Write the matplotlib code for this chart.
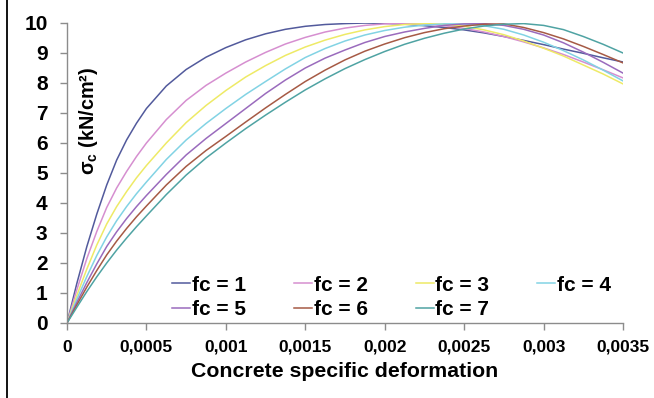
import matplotlib
matplotlib.use("Agg")
import matplotlib.pyplot as plt
from matplotlib.lines import Line2D

plt.rcParams['font.family'] = ['Liberation Sans', 'DejaVu Sans']
plt.rcParams['font.weight'] = 'bold'
plt.rcParams['mathtext.fontset'] = 'custom'
plt.rcParams['mathtext.rm'] = 'Liberation Sans'
plt.rcParams['mathtext.bf'] = 'Liberation Sans:bold'

# strain values, finer near the origin
strain = [0, 0.0000625, 0.000125, 0.0001875, 0.00025, 0.0003125, 0.000375, 0.0004375,
          0.0005, 0.000625, 0.00075, 0.000875, 0.001, 0.001125, 0.00125, 0.001375,
          0.0015, 0.001625, 0.00175, 0.001875, 0.002, 0.002125, 0.00225, 0.002375,
          0.0025, 0.002625, 0.00275, 0.002875, 0.003, 0.003125, 0.00325, 0.003375, 0.0035]

fc1 = [0, 1.33, 2.55, 3.63, 4.6, 5.43, 6.1, 6.66, 7.15, 7.9, 8.45, 8.86, 9.18, 9.44, 9.64,
       9.79, 9.89, 9.95, 9.98, 10.0, 9.99, 9.96, 9.91, 9.85, 9.77, 9.67, 9.55, 9.42, 9.28,
       9.13, 8.99, 8.84, 8.7]
fc2 = [0, 1.12, 2.15, 3.05, 3.85, 4.5, 5.05, 5.55, 6.0, 6.78, 7.42, 7.92, 8.33, 8.7, 9.02,
       9.3, 9.52, 9.7, 9.83, 9.92, 9.97, 9.99, 9.97, 9.91, 9.82, 9.7, 9.55, 9.37, 9.17,
       8.95, 8.7, 8.44, 8.17]
fc3 = [0, 0.93, 1.8, 2.6, 3.3, 3.88, 4.38, 4.84, 5.25, 6.0, 6.68, 7.25, 7.75, 8.2, 8.58,
       8.92, 9.2, 9.43, 9.62, 9.77, 9.88, 9.95, 9.98, 9.96, 9.89, 9.77, 9.61, 9.4, 9.16,
       8.9, 8.6, 8.3, 7.97]
fc4 = [0, 0.8, 1.55, 2.25, 2.87, 3.41, 3.88, 4.31, 4.7, 5.45, 6.1, 6.65, 7.15, 7.62, 8.05,
       8.47, 8.85, 9.15, 9.4, 9.6, 9.75, 9.86, 9.93, 9.97, 9.97, 9.91, 9.79, 9.6, 9.36,
       9.08, 8.77, 8.43, 8.07]
fc5 = [0, 0.69, 1.35, 1.97, 2.55, 3.04, 3.48, 3.88, 4.25, 4.95, 5.6, 6.15, 6.65, 7.15, 7.65,
       8.1, 8.5, 8.83, 9.1, 9.35, 9.55, 9.7, 9.82, 9.92, 9.97, 9.98, 9.92, 9.79, 9.6,
       9.34, 9.03, 8.69, 8.33]
fc6 = [0, 0.61, 1.2, 1.75, 2.27, 2.73, 3.15, 3.54, 3.9, 4.6, 5.22, 5.75, 6.22, 6.7, 7.17,
       7.62, 8.05, 8.43, 8.77, 9.06, 9.3, 9.51, 9.68, 9.81, 9.9, 9.96, 9.97, 9.85, 9.68,
       9.47, 9.22, 8.95, 8.67]
fc7 = [0, 0.53, 1.05, 1.54, 2.0, 2.43, 2.83, 3.21, 3.57, 4.28, 4.93, 5.5, 6.0, 6.48, 6.93,
       7.36, 7.77, 8.14, 8.48, 8.78, 9.05, 9.29, 9.49, 9.66, 9.8, 9.9, 9.96, 9.98, 9.92,
       9.78, 9.55, 9.29, 9.0]

series = [fc1, fc2, fc3, fc4, fc5, fc6, fc7]
labels = ['fc = 1', 'fc = 2', 'fc = 3', 'fc = 4', 'fc = 5', 'fc = 6', 'fc = 7']
colors = ['#525a9c', '#d68fd0', '#eeea66', '#82d3e4', '#9a6bbd', '#a65a45', '#4fa3a3']

xticks = [0, 0.0005, 0.001, 0.0015, 0.002, 0.0025, 0.003, 0.0035]
xtick_labels = ['0', '0,0005', '0,001', '0,0015', '0,002', '0,0025', '0,003', '0,0035']
yticks = list(range(0, 11))

fig = plt.figure(figsize=(6.54, 3.98), dpi=100)
ax = fig.add_axes([67/654, 1-323/398, 556/654, 300/398])

lines = []
for ys, lab, col in zip(series, labels, colors):
    l, = ax.plot(strain, ys, color=col, lw=1.1, label=lab)
    lines.append(l)

ax.set_xlim(0, 0.0035)
ax.set_ylim(0, 10)
ax.set_xticks(xticks)
ax.set_xticklabels(xtick_labels, fontsize=12.5, fontweight='bold')
ax.set_yticks(yticks)
ax.set_yticklabels([str(v) for v in yticks], fontsize=15, fontweight='bold')

for s in ['top', 'right']:
    ax.spines[s].set_visible(False)
for s in ['left', 'bottom']:
    ax.spines[s].set_color('#8c8c8c')
    ax.spines[s].set_linewidth(1.0)
ax.tick_params(axis='both', colors='#8c8c8c', labelcolor='black', length=5, width=1.0)
ax.tick_params(axis='y', pad=9)
ax.tick_params(axis='x', pad=7)

ax.set_xlabel('Concrete specific deformation', fontsize=15.3, fontweight='bold', labelpad=5)

ax.text(0.038, 0.675, r'σ$_\mathbf{c}$ (kN/cm²)', transform=ax.transAxes, rotation=90,
        fontsize=14.3, fontweight='bold', ha='center', va='center')

# row-wise legend order
order = [0, 4, 1, 5, 2, 6, 3]
ax.legend([lines[i] for i in order], [labels[i] for i in order], ncol=4, frameon=False,
          loc='upper left', bbox_to_anchor=(0.189, 0.158), borderaxespad=0, borderpad=0,
          prop={'weight': 'bold', 'size': 15},
          handlelength=0.87, handletextpad=0.08, columnspacing=2.3, labelspacing=0.28)

fig.add_artist(Line2D([7/654, 7/654], [0, 1], color='black', lw=1.3))

fig.savefig('out.png', dpi=100)
